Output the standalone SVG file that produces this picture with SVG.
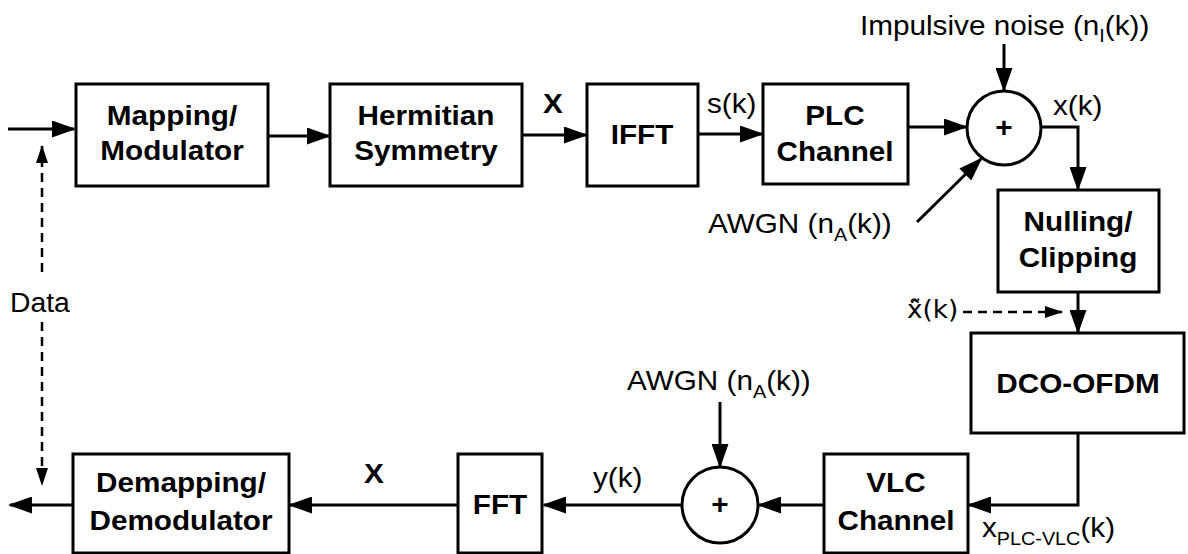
<svg xmlns="http://www.w3.org/2000/svg" width="1188" height="554" viewBox="0 0 1188 554">
<style>
.box{fill:#fff;stroke:#000;stroke-width:3}
.sum{fill:#fff;stroke:#000;stroke-width:3}
.b{font-family:"Liberation Sans",Arial,sans-serif;font-weight:bold;font-size:27px;fill:#000;text-anchor:middle}
.r{font-family:"Liberation Sans",Arial,sans-serif;font-size:27px;fill:#000}
.sub{font-size:18px}
.ln{fill:none;stroke:#000;stroke-width:3}
.dash{fill:none;stroke:#000;stroke-width:2.5;stroke-dasharray:9 6}
</style>
<defs>
<marker id="arr" viewBox="0 0 24 17" markerWidth="24" markerHeight="17" refX="22" refY="8.5" orient="auto" markerUnits="userSpaceOnUse">
<path d="M0,0 L24,8.5 L0,17 Z" fill="#000"/>
</marker>
<marker id="sarr" viewBox="0 0 18 12" markerWidth="18" markerHeight="12" refX="17" refY="6" orient="auto" markerUnits="userSpaceOnUse">
<path d="M0,0 L18,6 L0,12 Z" fill="#000"/>
</marker>
</defs>

<g id="connectors">
<path class="ln" d="M8,129 L74,129" marker-end="url(#arr)"/>
<path class="ln" d="M268,136 L329,136" marker-end="url(#arr)"/>
<path class="ln" d="M522,135 L586,135" marker-end="url(#arr)"/>
<path class="ln" d="M698,134 L762,134" marker-end="url(#arr)"/>
<path class="ln" d="M908,127 L966,127" marker-end="url(#arr)"/>
<path class="ln" d="M1004,44 L1004,90" marker-end="url(#arr)"/>
<path class="ln" d="M917,222 L981,159" marker-end="url(#arr)"/>
<path class="ln" d="M1041,127 L1078,127 L1078,189" marker-end="url(#arr)"/>
<path class="ln" d="M1078,292 L1078,332" marker-end="url(#arr)"/>
<path class="dash" d="M963,312 L1062,312" marker-end="url(#sarr)"/>
<path class="ln" d="M1078,433 L1078,505 L969,505" marker-end="url(#arr)"/>
<path class="ln" d="M824,505 L759,505" marker-end="url(#arr)"/>
<path class="ln" d="M720,402 L720,466" marker-end="url(#arr)"/>
<path class="ln" d="M682,505 L544,505" marker-end="url(#arr)"/>
<path class="ln" d="M458,505 L290,505" marker-end="url(#arr)"/>
<path class="ln" d="M73,505 L10,505" marker-end="url(#arr)"/>
<path class="dash" d="M42,272 L42,146" marker-end="url(#sarr)"/>
<path class="dash" d="M42,322 L42,485" marker-end="url(#sarr)"/>
</g>

<g id="mapping">
<rect class="box" x="76" y="84" width="192" height="102"/>
<text class="b" transform="translate(172,125) scale(1.1,1)">Mapping/</text>
<text class="b" transform="translate(172,160) scale(1.1,1)">Modulator</text>
</g>
<g id="hermitian">
<rect class="box" x="330" y="84" width="192" height="102"/>
<text class="b" transform="translate(426,125) scale(1.1,1)">Hermitian</text>
<text class="b" transform="translate(426,160) scale(1.1,1)">Symmetry</text>
</g>
<g id="ifft">
<rect class="box" x="587" y="84" width="111" height="102"/>
<text class="b" transform="translate(642,144) scale(1.1,1)">IFFT</text>
</g>
<g id="plc">
<rect class="box" x="763" y="84" width="145" height="100"/>
<text class="b" transform="translate(835,125) scale(1.1,1)">PLC</text>
<text class="b" transform="translate(835,161) scale(1.1,1)">Channel</text>
</g>
<g id="sum1">
<circle class="sum" cx="1004" cy="128" r="37"/>
<text class="b" transform="translate(1004,137) scale(1.1,1)">+</text>
</g>
<g id="nulling">
<rect class="box" x="998" y="190" width="161" height="102"/>
<text class="b" transform="translate(1078,231) scale(1.1,1)">Nulling/</text>
<text class="b" transform="translate(1078,267) scale(1.1,1)">Clipping</text>
</g>
<g id="dco">
<rect class="box" x="971" y="333" width="213" height="100"/>
<text class="b" transform="translate(1078,393) scale(1.1,1)">DCO-OFDM</text>
</g>
<g id="vlc">
<rect class="box" x="824" y="454" width="144" height="99"/>
<text class="b" transform="translate(896,492) scale(1.1,1)">VLC</text>
<text class="b" transform="translate(896,530) scale(1.1,1)">Channel</text>
</g>
<g id="sum2">
<circle class="sum" cx="720" cy="505" r="38"/>
<text class="b" transform="translate(720,514) scale(1.1,1)">+</text>
</g>
<g id="fft">
<rect class="box" x="458" y="454" width="84" height="99"/>
<text class="b" transform="translate(500,514) scale(1.1,1)">FFT</text>
</g>
<g id="demapping">
<rect class="box" x="73" y="454" width="216" height="99"/>
<text class="b" transform="translate(181,492) scale(1.1,1)">Demapping/</text>
<text class="b" transform="translate(181,530) scale(1.1,1)">Demodulator</text>
</g>

<g id="labels">
<text class="r" transform="translate(860,35) scale(1.1,1)">Impulsive noise (n<tspan class="sub" dy="7">I</tspan><tspan dy="-7">(k))</tspan></text>
<text class="r" transform="translate(708,233) scale(1.1,1)">AWGN (n<tspan class="sub" dy="8">A</tspan><tspan dy="-8">(k))</tspan></text>
<text class="r" transform="translate(627,390) scale(1.1,1)">AWGN (n<tspan class="sub" dy="8">A</tspan><tspan dy="-8">(k))</tspan></text>
<text class="r" transform="translate(1053,115) scale(1.1,1)">x(k)</text>
<text class="r" transform="translate(707,113) scale(1.1,1)">s(k)</text>
<text class="b" transform="translate(553,113) scale(1.1,1)">X</text>
<text class="b" transform="translate(374,483) scale(1.1,1)">X</text>
<text class="r" transform="translate(593,487) scale(1.1,1)">y(k)</text>
<text class="r" transform="translate(907,318) scale(1.05,1)" style="font-family:'DejaVu Sans',sans-serif;font-size:25px">x̃̂(k)</text>
<text class="r" transform="translate(982,537) scale(1.1,1)">x<tspan class="sub" dy="8">PLC-VLC</tspan><tspan dy="-8">(k)</tspan></text>
<text class="r" transform="translate(10,312) scale(1.05,1)">Data</text>
</g>
</svg>
